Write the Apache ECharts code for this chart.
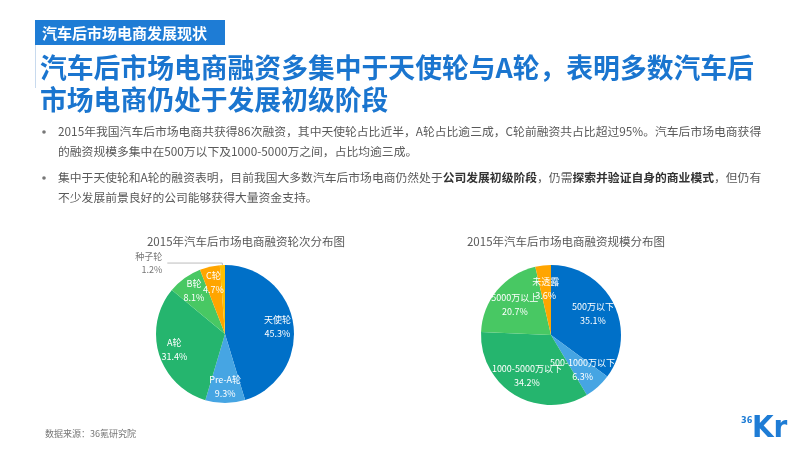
<!DOCTYPE html>
<html><head><meta charset="utf-8">
<script src="https://cdn.jsdelivr.net/npm/echarts@6/dist/echarts.min.js"></script>
<style>html,body{margin:0;padding:0;background:#fff}#c{width:800px;height:450px}</style>
</head><body><div id="c"></div>
<script>
// ---- data ----
var roundNames = ['天使轮','Pre-A轮','A轮','B轮','C轮','种子轮'];
var roundValues = [45.3, 9.3, 31.4, 8.1, 4.7, 1.2];
var scaleNames = ['500万以下','500-1000万以下','1000-5000万以下','5000万以上','未透露'];
var scaleValues = [35.1, 6.3, 34.2, 20.7, 3.6];
var chartTitles = ['2015年汽车后市场电商融资轮次分布图','2015年汽车后市场电商融资规模分布图'];
var headerTag = '汽车后市场电商发展现状';
var mainTitle = ['汽车后市场电商融资多集中于天使轮与A轮，表明多数汽车后','市场电商仍处于发展初级阶段'];
var bulletLines = [
  '2015年我国汽车后市场电商共获得86次融资，其中天使轮占比近半，A轮占比逾三成，C轮前融资共占比超过95%。汽车后市场电商获得',
  '的融资规模多集中在500万以下及1000-5000万之间，占比均逾三成。',
  '集中于天使轮和A轮的融资表明，目前我国大多数汽车后市场电商仍然处于{b|公司发展初级阶段}，仍需{b|探索并验证自身的商业模式}，但仍有',
  '不少发展前景良好的公司能够获得大量资金支持。'
];
var sourceText = '数据来源：36氪研究院';

var roundColors = ['#0070C8','#46A5E3','#25B56E','#48C863','#FFA500','#FFC000'];
var scaleColors = ['#0070C8','#46A5E3','#25B56E','#48C863','#FFA500'];

var FONT = '"Noto Sans CJK SC","Noto Sans",sans-serif';

function mk(names, values, colors){
  return names.map(function(n,i){ return {name:n, value:values[i], itemStyle:{color:colors[i]}}; });
}
var roundData = mk(roundNames, roundValues, roundColors);
var scaleData = mk(scaleNames, scaleValues, scaleColors);

var chart = echarts.init(document.getElementById('c'), null, {renderer:'canvas'});

var graphics = [];
graphics.push({type:'rect', shape:{x:35,y:20,width:190,height:25}, style:{fill:'#1E7CD5'}});
graphics.push({type:'text', x:42, y:33, style:{text:headerTag, fill:'#fff', font:'bold 15px '+FONT, verticalAlign:'middle'}});
graphics.push({type:'line', shape:{x1:35.5,y1:45,x2:35.5,y2:88}, style:{stroke:'#C8DAEE', lineWidth:1}});
mainTitle.forEach(function(t,i){
  graphics.push({type:'text', x:40, y:68+i*32, style:{text:t, fill:'#1A75CF', font:'bold 26.8px '+FONT, verticalAlign:'middle'}});
});
var bulletY = [132,152,178,198];
bulletLines.forEach(function(t,i){
  if(i===0||i===2){
    graphics.push({type:'circle', shape:{cx:44,cy:bulletY[i],r:1.8}, style:{fill:'#777'}});
  }
  graphics.push({type:'text', x:58, y:bulletY[i], style:{text:t, fill:'#595959', font:'11.8px '+FONT, verticalAlign:'middle',
    rich:{b:{fontWeight:'bold', fill:'#333', fontSize:11.8, fontFamily:FONT}}}});
});
graphics.push({type:'text', x:45, y:434, style:{text:sourceText, fill:'#777', font:'9px '+FONT, verticalAlign:'middle'}});
graphics.push({type:'text', x:741, y:421, style:{text:'36', fill:'#1E7CD5', font:'bold 9px "DejaVu Sans Condensed",sans-serif', verticalAlign:'middle'}});
graphics.push({type:'text', x:752, y:429, style:{text:'Kr', fill:'#1E7CD5', font:'bold 31px "DejaVu Sans Condensed",sans-serif', verticalAlign:'middle'}});

var insideLabel = {show:true, position:'inside', color:'#fff', fontSize:9, lineHeight:14, fontFamily:FONT, formatter:'{b}\n{c}%'};

chart.setOption({
  animation:false,
  title: [
    {text:chartTitles[0], left:241, top:231, textAlign:'center', textStyle:{color:'#595959', fontSize:11.5, fontWeight:'normal', fontFamily:FONT}},
    {text:chartTitles[1], left:561, top:231, textAlign:'center', textStyle:{color:'#595959', fontSize:11.5, fontWeight:'normal', fontFamily:FONT}}
  ],
  graphic: graphics,
  series: [
    {type:'pie', center:[225,334], radius:[0,69], startAngle:90, clockwise:true, data:roundData, silent:true,
     label:{show:false},
     labelLine:{show:false}},
    {type:'pie', center:[225,334], radius:[31,69], startAngle:90, clockwise:true, silent:true,
     avoidLabelOverlap:false, labelLayout:{hideOverlap:false},
     data: roundData.map(function(d,i){
       var o = {name:d.name, value:d.value, itemStyle:{color:'rgba(0,0,0,0)'}};
       if(i===5){
         o.label = {show:true, position:'outside', color:'#777', fontSize:9, lineHeight:13, formatter:'{b}\n{c}%'};
         o.labelLine = {show:true, length:2, length2:55, lineStyle:{color:'#aaa', width:0.8}};
       }
       return o;
     }),
     label: insideLabel, labelLine:{show:false}},
    {type:'pie', center:[551,335], radius:[0,70], startAngle:90, clockwise:true, data:scaleData, silent:true,
     label:{show:false}, labelLine:{show:false}},
    {type:'pie', center:[551,335], radius:[18,70], startAngle:90, clockwise:true, silent:true,
     avoidLabelOverlap:false, labelLayout:{hideOverlap:false},
     data: scaleData.map(function(d){ return {name:d.name, value:d.value, itemStyle:{color:'rgba(0,0,0,0)'}}; }),
     label: insideLabel, labelLine:{show:false}}
  ]
});
</script></body></html>
